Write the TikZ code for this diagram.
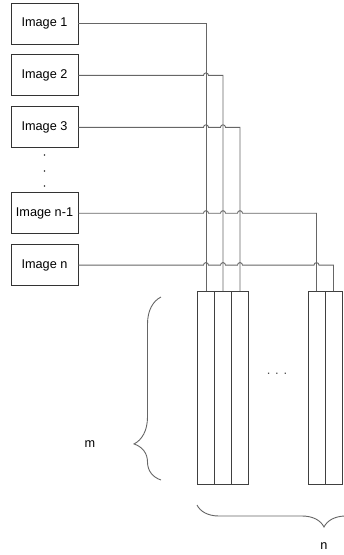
\documentclass[tikz,border=0pt]{standalone}
\usepackage{fontspec}
\setmainfont{Liberation Sans}
\usetikzlibrary{positioning,calc,decorations.pathreplacing}

\begin{document}
\begin{tikzpicture}[x=1pt,y=-1pt,node distance=10pt,
                image node/.style={rectangle,draw=black!80,line width=0.9pt,minimum width=67pt,minimum height=41pt,inner sep=0pt,font=\fontsize{12.7}{15}\selectfont},
                col node/.style={rectangle,draw=black!75,line width=0.8pt,minimum width=17pt,minimum height=193pt,inner sep=0pt,outer sep=0pt},
                wire/.style={draw=black!60,line width=0.9pt},
                hop/.style={insert path={arc[start angle=180,end angle=0,radius=2.5pt]}},
                brace line/.style={draw=black!60,line width=0.9pt,decorate}]
                \clip (0,0) rectangle (344,555);
                \node[image node] (img1) at (44.5,23.5) {Image 1};
                \node[image node] (img2) [below=of img1] {Image 2};
                \node[image node] (img3) [below=of img2] {Image 3};
                \node[image node] (imgn1) [below=44pt of img3] {Image n-1};
                \node[image node] (imgn) [below=of imgn1] {Image n};
                \foreach \y in {155,171,186} \fill[black!80] (44.5,\y) circle (0.9pt);

                \node[col node] (col1) at (206,387.5) {};
                \node[col node] (col2) [right=0pt of col1] {};
                \node[col node] (col3) [right=0pt of col2] {};
                \node[col node] (colA) at (316.5,387.5) {};
                \node[col node] (colB) [right=0pt of colA] {};
                \node[text=black!70,font=\fontsize{13}{15}\selectfont] (gap) at (277,374) {. . .};

                % wires with hops over the earlier ones
                \draw[wire] (img1.east) -| (col1.north);
                \draw[wire] (img2.east) -- ($(col1.north |- img2.east)+(-2.5,0)$) [hop] -| (col2.north);
                \draw[wire] (img3.east) -- ($(col1.north |- img3.east)+(-2.5,0)$) [hop]
                    -- ($(col2.north |- img3.east)+(-2.5,0)$) [hop] -| (col3.north);
                \draw[wire] (imgn1.east) -- ($(col1.north |- imgn1.east)+(-2.5,0)$) [hop]
                    -- ($(col2.north |- imgn1.east)+(-2.5,0)$) [hop]
                    -- ($(col3.north |- imgn1.east)+(-2.5,0)$) [hop] -| (colA.north);
                \draw[wire] (imgn.east) -- ($(col1.north |- imgn.east)+(-2.5,0)$) [hop]
                    -- ($(col2.north |- imgn.east)+(-2.5,0)$) [hop]
                    -- ($(col3.north |- imgn.east)+(-2.5,0)$) [hop]
                    -- ($(colA.north |- imgn.east)+(-2.5,0)$) [hop] -| (colB.north);

                % braces
                \draw[brace line,decoration={brace,amplitude=27pt,aspect=0.197}] (161,480) -- (161,297);
                \node[font=\fontsize{12.7}{15}\selectfont] (m) at (90,444) {m};
                \draw[brace line,decoration={brace,amplitude=22pt,aspect=0.342}] (390,505) -- (197,505);
                \node[font=\fontsize{12.7}{15}\selectfont] (n) at (324,546) {n};
                \end{tikzpicture}
\end{document}
